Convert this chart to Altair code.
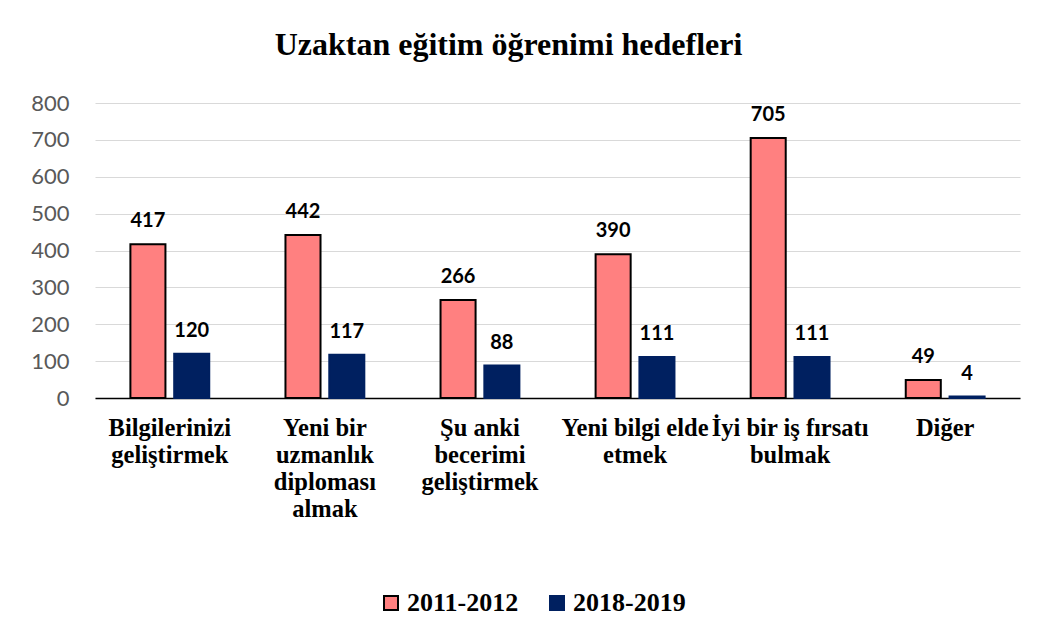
import altair as alt
import pandas as pd

categories = [
    "Bilgilerinizi\ngeliştirmek",
    "Yeni bir\nuzmanlık\ndiploması\nalmak",
    "Şu anki\nbecerimi\ngeliştirmek",
    "Yeni bilgi elde\netmek",
    "İyi bir iş fırsatı\nbulmak",
    "Diğer",
]
series = ["2011-2012", "2018-2019"]
values_2011_2012 = [417, 442, 266, 390, 705, 49]
values_2018_2019 = [120, 117, 88, 111, 111, 4]
y_ticks = [0, 100, 200, 300, 400, 500, 600, 700, 800]

rows = []
for c, v in zip(categories, values_2011_2012):
    rows.append({"category": c, "series": series[0], "value": v})
for c, v in zip(categories, values_2018_2019):
    rows.append({"category": c, "series": series[1], "value": v})
df = pd.DataFrame(rows)

fill_colors = ["#ff8080", "#002060"]
stroke_colors = ["#000000", "#002060"]

x_enc = alt.X(
    "category:N",
    sort=categories,
    scale=alt.Scale(paddingInner=0.435, paddingOuter=0.2),
    axis=alt.Axis(
        title=None,
        labelAngle=0,
        labelExpr="split(datum.value, '\\n')",
        labelFont="Liberation Serif",
        labelFontWeight="bold",
        labelFontSize=24.5,
        labelColor="#000000",
        labelLineHeight=27,
        labelLimit=400,
        labelOverlap=False,
        labelPadding=18,
        labelBaseline="top",
        ticks=False,
        domainColor="#000000",
        domainWidth=1.5,
    ),
)
y_enc = alt.Y(
    "value:Q",
    scale=alt.Scale(domain=[0, 800], nice=False),
    axis=alt.Axis(
        title=None,
        values=y_ticks,
        labelFont="Lato",
        labelFontSize=22,
        labelColor="#595959",
        labelPadding=26,
        labelOverlap=False,
        labelFlush=False,
        domain=False,
        ticks=False,
        gridColor="#d9d9d9",
        gridWidth=1,
    ),
)
xoff = alt.XOffset(
    "series:N", sort=series, scale=alt.Scale(paddingInner=0.2, paddingOuter=0.1)
)

legend_spec = dict(
    title=None,
    orient="none",
    legendX=283,
    legendY=487,
    direction="horizontal",
    symbolType="square",
    symbolSize=196,
    symbolStrokeWidth=2,
    labelFont="Liberation Serif",
    labelFontWeight="bold",
    labelFontSize=26,
    labelColor="#000000",
    labelOffset=3,
    columnPadding=25,
)

bars = alt.Chart(df).mark_bar(strokeWidth=2).encode(
    x=x_enc,
    y=y_enc,
    xOffset=xoff,
    fill=alt.Fill(
        "series:N",
        sort=series,
        scale=alt.Scale(domain=series, range=fill_colors),
        legend=alt.Legend(**legend_spec),
    ),
    stroke=alt.Stroke(
        "series:N",
        sort=series,
        scale=alt.Scale(domain=series, range=stroke_colors),
        legend=alt.Legend(**legend_spec),
    ),
)

labels = alt.Chart(df).mark_text(
    dy=-17,
    baseline="alphabetic",
    font="Lato",
    fontWeight="bold",
    fontSize=20,
    color="#000000",
).encode(
    x=x_enc,
    y=y_enc,
    xOffset=xoff,
    text=alt.Text("value:Q"),
)

chart = (
    alt.layer(bars, labels)
    .properties(
        width=925,
        height=295,
        title=alt.TitleParams(
            "Uzaktan eğitim öğrenimi hedefleri",
            font="Liberation Serif",
            fontSize=32,
            fontWeight="bold",
            color="#000000",
            anchor="middle",
            dx=-49,
            offset=30,
        ),
        autosize=alt.AutoSizeParams(type="none"),
        padding={"left": 87, "top": 95, "right": 17, "bottom": 230},
    )
    .configure_view(stroke=None)
)

chart.save("out.html", embed_options={"renderer": "svg", "actions": False})
